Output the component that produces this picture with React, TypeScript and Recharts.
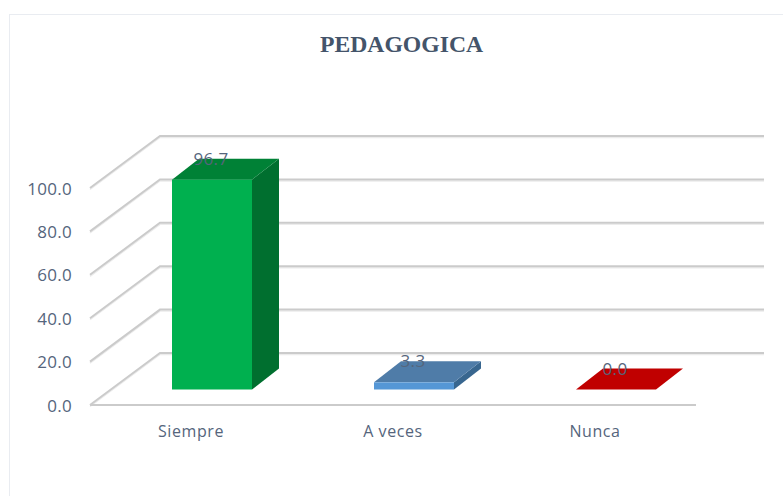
import React from 'react'
import { Bar, BarChart, CartesianGrid, LabelList, XAxis, YAxis } from 'recharts'

const categories = ['Siempre', 'A veces', 'Nunca']
const percentages = [96.7, 3.3, 0.0]
const yTicks = [0, 20, 40, 60, 80, 100]

const frontColors = ['#00b04f', '#5597d6', '#c00000']
const topColors = ['#008136', '#4f7ca8', '#c00000']
const sideColors = ['#006f2f', '#38668f', '#c00000']

const chartData = categories.map((name, i) => ({ name, value: percentages[i] }))

const TEXT_COLOR = '#55657c'
const GRID_COLOR = '#cbcbcb'
const FONT = '"Open Sans", sans-serif'

// wall depth of the fake 3D box, and how far back the bars stand in it
const WALL_DX = 70
const WALL_DY = -52
const BAR_SHIFT_X = 21
const BAR_SHIFT_Y = -15.5
const BAR_DX = 27
const BAR_DY = -21

function renderGridLine(props: { x1?: number; y1?: number; x2?: number; y2?: number; key?: string }) {
  const { x1 = 0, y1 = 0, x2 = 0 } = props
  const backX = x1 + WALL_DX
  const backY = y1 + WALL_DY
  const points = `${x1},${y1} ${backX},${backY} ${x2 + WALL_DX - 2},${backY}`
  return (
    <g key={props.key}>
      <polyline points={points} transform="translate(0,1.5)" fill="none" stroke="#ececec" strokeWidth={1.5} />
      <polyline points={points} fill="none" stroke={GRID_COLOR} strokeWidth={2} />
    </g>
  )
}

function Box3D(props: { x?: number; y?: number; width?: number; height?: number; index?: number }) {
  const { width = 0, height = 0, index = 0 } = props
  const x = (props.x ?? 0) + BAR_SHIFT_X
  const y = (props.y ?? 0) + BAR_SHIFT_Y
  const right = x + width
  const bottom = y + height
  return (
    <g>
      <polygon
        points={`${right},${y} ${right + BAR_DX},${y + BAR_DY} ${right + BAR_DX},${bottom + BAR_DY} ${right},${bottom}`}
        fill={sideColors[index]}
      />
      <polygon
        points={`${x},${y} ${x + BAR_DX},${y + BAR_DY} ${right + BAR_DX},${y + BAR_DY} ${right},${y}`}
        fill={topColors[index]}
      />
      <rect x={x} y={y} width={width} height={height} fill={frontColors[index]} />
    </g>
  )
}

function ValueLabel(props: { x?: number; y?: number; width?: number; value?: number }) {
  const { x = 0, y = 0, width = 0, value = 0 } = props
  return (
    <text
      x={x + width / 2 + BAR_SHIFT_X - 1}
      y={y + BAR_SHIFT_Y - 15}
      fill={TEXT_COLOR}
      textAnchor="middle"
      fontSize={17}
      letterSpacing={0.3}
      fontFamily={FONT}
    >
      {value.toFixed(1)}
    </text>
  )
}

export default function App() {
  return (
    <div style={{ position: 'absolute', left: 0, top: 0, width: 783, height: 496, overflow: 'hidden', background: '#fff' }}>
      <div style={{ position: 'absolute', left: 9, top: 14, width: 900, height: 600, border: '1px solid #e9ecf1' }} />
      <div style={{ position: 'absolute', left: 0, top: 0 }}>
        <BarChart
          width={783}
          height={496}
          data={chartData}
          margin={{ top: 188, right: 87, bottom: 51, left: 30 }}
          barSize={80}
        >
          <text
            x={401.5}
            y={52}
            textAnchor="middle"
            fill="#44546a"
            fontSize={23.7}
            fontWeight="bold"
            fontFamily='"Liberation Serif", serif'
          >
            PEDAGOGICA
          </text>
          <CartesianGrid vertical={false} horizontal={renderGridLine as never} />
          <XAxis
            dataKey="name"
            height={40}
            axisLine={{ stroke: GRID_COLOR, strokeWidth: 2 }}
            tickLine={false}
            tickMargin={15}
            tick={{ fontSize: 16, fill: TEXT_COLOR, fontFamily: FONT, letterSpacing: 0.6 }}
          />
          <YAxis
            width={60}
            domain={[0, 100]}
            ticks={yTicks}
            axisLine={false}
            tickLine={false}
            tickMargin={12}
            tickFormatter={(v: number) => v.toFixed(1)}
            tick={{ fontSize: 17, fill: TEXT_COLOR, fontFamily: FONT, letterSpacing: 0.3, dy: 0.5 }}
          />
          <Bar dataKey="value" shape={<Box3D />} isAnimationActive={false}>
            <LabelList dataKey="value" content={<ValueLabel />} />
          </Bar>
        </BarChart>
      </div>
    </div>
  )
}
